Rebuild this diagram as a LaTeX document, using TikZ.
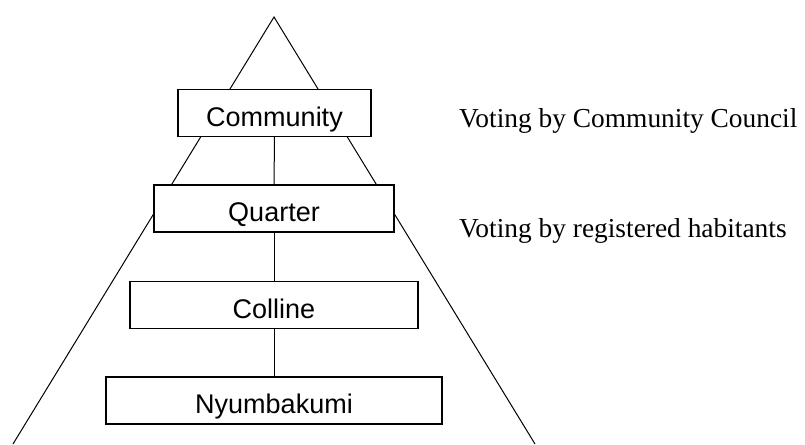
\documentclass[tikz,border=0pt]{standalone}
\usepackage{fontspec}
\setmainfont{Liberation Serif}
\newfontfamily\boxfont{Liberation Sans}

\begin{document}
\begin{tikzpicture}[x=1pt, y=-1pt]

  \tikzstyle{box}  = [draw, fill=white, line width=1.3pt, inner sep=0pt,
                      minimum height=47pt, text height=26pt, text depth=0pt,
                      font=\boxfont\fontsize{27}{30}\selectfont]
  \tikzstyle{tri}  = [line width=1pt]
  \tikzstyle{link} = [line width=1pt]
  \tikzstyle{note} = [anchor=base west, inner sep=0pt, font=\fontsize{27.4}{32}\selectfont]

  \useasboundingbox (0,0) rectangle (805,444);

  % ---- TRIANGLE ----
  \coordinate (apex)  at (274,17);
  \coordinate (baseL) at (13,444);
  \coordinate (baseR) at (535,444);
  \draw[tri] (baseL) -- (apex) -- (baseR);

  % ---- LEVELS (top to bottom) ----
  \node[box, minimum width=193pt] (community)  at (274.5,113)   {Community};
  \node[box, minimum width=240pt] (quarter)    at (274,208.5)   {Quarter};
  \node[box, minimum width=288pt] (colline)    at (274,305)     {Colline};
  \node[box, minimum width=336pt] (nyumbakumi) at (274,400.5)   {Nyumbakumi};

  % ---- LINKS ----
  \draw[link] (community) -- (quarter);
  \draw[link] (quarter) -- (colline);
  \draw[link] (colline) -- (nyumbakumi);

  % ---- NOTES ----
  \node[note] (council)   at (459,127) {Voting by Community Council};
  \node[note] (habitants) at (459,237) {Voting by registered habitants};

\end{tikzpicture}
\end{document}
